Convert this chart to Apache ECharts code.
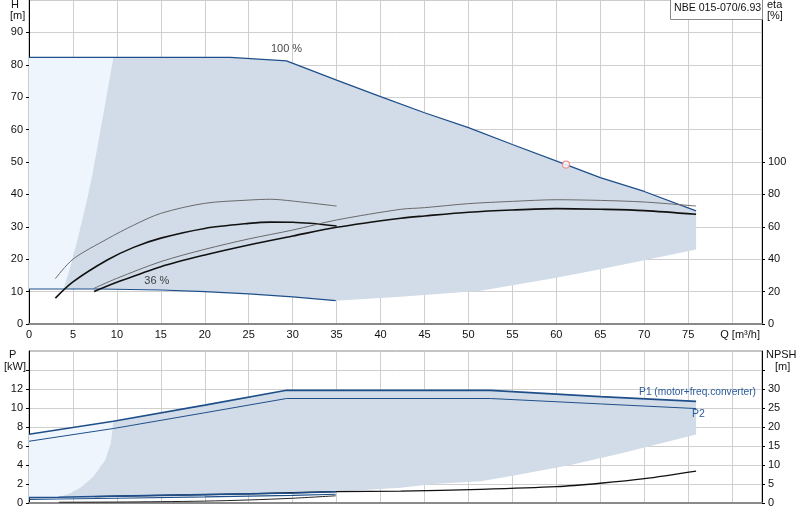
<!DOCTYPE html>
<html><head><meta charset="utf-8">
<script src="https://cdn.jsdelivr.net/npm/echarts@6/dist/echarts.min.js"></script>
<style>html,body{margin:0;padding:0;background:#fff}#c{width:800px;height:520px}</style>
</head><body><div id="c"></div>
<script>
// ---------- data ----------
const qLabelTicks = [0,5,10,15,20,25,30,35,40,45,50,55,60,65,70,75];
const hLabels = [0,10,20,30,40,50,60,70,80,90];
const etaLabels = [0,20,40,60,80,100];
const pLabels = [0,2,4,6,8,10,12];
const pTicks = [0,2,4,6,8,10,12,14];
const npshLabels = [0,5,10,15,20,25,30];
const npshTicks = [0,5,10,15,20,25,30,35];

// head curves
const h100Q = [0, 9.6, 22.9, 29.3, 35, 40, 45, 50, 55, 61.1, 65, 70, 75.9];
const h100H = [82.3, 82.3, 82.3, 81.2, 75.3, 70.2, 65.2, 60.6, 55.4, 49.2, 45.2, 40.9, 34.9];
const h36Q = [0, 3.9, 8, 15, 20, 25, 30, 34.9];
const h36H = [10.8, 10.8, 10.8, 10.5, 10.0, 9.3, 8.4, 7.2];
// operating range boundaries
const edgeQ = [3.9, 4.6, 5.6, 6.5, 7.2, 8.4, 9.6];
const edgeH = [10.8, 16.7, 26.9, 37.2, 46, 64, 82.3];
const lowQ = [34.9, 42.3, 51.4, 60, 65, 70, 75.9];
const lowH = [7.2, 8.4, 10.3, 14.3, 16.9, 19.7, 23.0];
// efficiency curves [%]
const etaQ36 = [3, 5, 8.9, 11.9, 15, 20, 25, 27.5, 30, 35];
const eta36a = [28, 40, 52.5, 61, 68.3, 74.5, 76.5, 77, 75.9, 72.8];
const eta36b = [16, 26, 39.5, 47.3, 53, 59, 62.1, 62.9, 62.8, 60.5];
const etaQ100 = [7.4, 10, 15, 20, 25, 30, 35, 42.3, 45, 50, 55, 60, 65, 70, 75.9];
const eta100a = [22, 28.2, 38.5, 46.1, 52.5, 58.0, 64.2, 70.8, 71.8, 74.3, 75.7, 76.7, 76.3, 75.3, 72.8];
const eta100b = [20, 25.7, 35.4, 42.6, 48.8, 54.3, 59.7, 65.3, 66.7, 69, 70.4, 71.2, 70.8, 70, 67.7];
const dutyQ = [61.1];
const dutyH = [49.2];

// power curves [kW]
const pQ = [0, 9.6, 20, 29.3, 52.5, 65, 75.9];
const p1 = [7.24, 8.6, 10.3, 11.86, 11.86, 11.2, 10.7];
const p2 = [6.5, 7.84, 9.5, 11.0, 11.0, 10.43, 9.94];
const pEdgeQ = [3.34, 4.67, 6.0, 7.3, 8.66, 9.3, 9.6];
const pEdgeP = [0.6, 1.02, 1.71, 2.76, 4.5, 6.27, 8.6];
const pLowQ = [34.9, 42.3, 46, 51.4, 55.2, 61.6, 67.3, 73.3, 75.9];
const pLowP = [1.19, 1.6, 2.0, 2.3, 2.9, 4.0, 5.2, 6.6, 7.2];
const p36Q = [0, 3.34, 10, 20, 30, 34.9];
const p1_36 = [0.58, 0.6, 0.72, 0.88, 1.05, 1.19];
const p2_36 = [0.38, 0.42, 0.5, 0.64, 0.8, 0.92];
// NPSH [m]
const npsh36Q = [3.4, 10, 15, 20, 25, 30, 34.9];
const npsh36 = [0.2, 0.25, 0.35, 0.5, 0.8, 1.25, 1.9];
const npsh100Q = [7.5, 15, 25, 34.9, 42.3, 51.4, 60, 65, 70, 75.9];
const npsh100 = [1.7, 2.0, 2.4, 2.97, 3.15, 3.6, 4.3, 5.2, 6.4, 8.4];

// ---------- helpers ----------
const zip = (a, b) => a.map((v, i) => [v, b[i]]);
const FONT = 'Liberation Sans, Arial, sans-serif';
const BLUE = '#1f4f8a';
const DARK = '#d1dce8';
const LIGHT = '#eef5fd';
const TXT = '#111';

const H100 = zip(h100Q, h100H), H36 = zip(h36Q, h36H);
const EDGE = zip(edgeQ, edgeH), LOW = zip(lowQ, lowH);
const topDark = [].concat(EDGE, H100.filter(p => p[0] > edgeQ[edgeQ.length-1]),
  LOW.slice().reverse(), H36.filter(p => p[0] >= edgeQ[0] && p[0] < lowQ[0]).reverse());
const topLight = [].concat([H36[0], H100[0]], H100.filter(p => p[0] > 0 && p[0] <= edgeQ[edgeQ.length-1]),
  EDGE.slice().reverse());

const P1 = zip(pQ, p1), P2 = zip(pQ, p2);
const PE = zip(pEdgeQ, pEdgeP), PL = zip(pLowQ, pLowP), P136 = zip(p36Q, p1_36);
const botDark = [].concat(PE, P1.filter(p => p[0] > pEdgeQ[pEdgeQ.length-1]),
  PL.slice().reverse(), P136.filter(p => p[0] >= pEdgeQ[0] && p[0] < pLowQ[0]).reverse());
const botLight = [].concat([P136[0]], P1.filter(p => p[0] <= pEdgeQ[pEdgeQ.length-1]), PE.slice().reverse());

function poly(pts, color, xi, yi, z) {
  return { type: 'custom', xAxisIndex: xi, yAxisIndex: yi, z: z, silent: true, data: [[0, 0]],
    renderItem: function (params, api) {
      return { type: 'polygon', shape: { points: pts.map(p => api.coord(p)) }, style: { fill: color } };
    } };
}
function line(data, xi, yi, color, width, smooth, z, extra) {
  return Object.assign({ type: 'line', xAxisIndex: xi, yAxisIndex: yi, data: data, symbol: 'none',
    showSymbol: false, smooth: smooth, lineStyle: { color: color, width: width }, z: z, silent: true }, extra || {});
}
const lbl = { color: TXT, fontSize: 11, fontFamily: FONT };

function xAxis(gi, showLabels) {
  return { type: 'value', gridIndex: gi, min: 0, max: 83.4, interval: 5,
    axisLine: { show: true, onZero: false, lineStyle: { color: '#8a8a8a', width: 2 } },
    axisTick: { show: false },
    splitLine: { show: true, lineStyle: { color: '#cfcfcf', width: 1 } },
    axisLabel: showLabels ? Object.assign({ margin: 5, customValues: qLabelTicks.concat([80]),
      formatter: v => v === 80 ? '{q|Q [m³/h]}' : String(v),
      rich: { q: { fontSize: 11, fontFamily: FONT, color: TXT, padding: [0, 0, 0, 16] } } }, lbl) : { show: false } };
}
function yAxis(gi, pos, max, interval, labels, ticks, split) {
  return { type: 'value', gridIndex: gi, position: pos, min: 0, max: max, interval: interval,
    axisLine: { show: true, onZero: false, lineStyle: { color: '#000', width: 1 } },
    axisTick: { show: true, length: 3, customValues: ticks, lineStyle: { color: '#000' } },
    splitLine: { show: split, lineStyle: { color: '#cfcfcf', width: 1 } },
    axisLabel: Object.assign({ margin: 6, customValues: labels }, lbl) };
}

const option = {
  animation: false,
  backgroundColor: '#fff',
  grid: [
    { left: 29, right: 38, top: 0, height: 324, show: true, borderColor: '#9a9a9a', borderWidth: 1, backgroundColor: 'transparent' },
    { left: 29, right: 38, top: 351, height: 152, show: true, borderColor: '#8a8a8a', borderWidth: 1, backgroundColor: 'transparent' }
  ],
  xAxis: [xAxis(0, true), xAxis(1, false)],
  yAxis: [
    yAxis(0, 'left', 100, 10, hLabels, hLabels, true),
    yAxis(0, 'right', 200, 20, etaLabels, etaLabels, false),
    yAxis(1, 'left', 16, 2, pLabels, pTicks, true),
    yAxis(1, 'right', 40, 5, npshLabels, npshTicks, false)
  ],
  series: [
    poly(topLight, LIGHT, 0, 0, 1),
    poly(topDark, DARK, 0, 0, 1),
    poly(botLight, LIGHT, 1, 2, 1),
    poly(botDark, DARK, 1, 2, 1),
    // head
    line(H100, 0, 0, BLUE, 1.3, false, 5),
    line(H36, 0, 0, BLUE, 1.2, false, 5),
    // efficiency
    line(zip(etaQ36, eta36a), 0, 1, '#6a6a6a', 1, 0.3, 6),
    line(zip(etaQ36, eta36b), 0, 1, '#111', 1.6, 0.3, 6),
    line(zip(etaQ100, eta100a), 0, 1, '#6a6a6a', 1, 0.3, 6),
    line(zip(etaQ100, eta100b), 0, 1, '#111', 1.6, 0.3, 6),
    // labels
    { type: 'scatter', xAxisIndex: 0, yAxisIndex: 0, silent: true, z: 8, symbol: 'circle', symbolSize: 1,
      itemStyle: { color: 'transparent' }, data: [[h100Q[3], h100H[3]]],
      label: { show: true, position: 'top', distance: 6, formatter: '100 %', color: TXT, fontSize: 11, fontFamily: FONT } },
    { type: 'scatter', xAxisIndex: 0, yAxisIndex: 0, silent: true, z: 8, symbol: 'circle', symbolSize: 1,
      itemStyle: { color: 'transparent' }, data: [[h36Q[3], h36H[3]]],
      label: { show: true, position: 'top', distance: 3, offset: [-4, 0], formatter: '36 %', color: TXT, fontSize: 11, fontFamily: FONT } },
    // duty point
    { type: 'scatter', xAxisIndex: 0, yAxisIndex: 0, silent: true, z: 9, symbol: 'circle', symbolSize: 7,
      itemStyle: { color: '#fff', borderColor: '#f07878', borderWidth: 1.2 }, data: zip(dutyQ, dutyH) },
    // NPSH
    line(zip(npsh100Q, npsh100), 1, 3, '#111', 1.3, 0.3, 4),
    line(zip(npsh36Q, npsh36), 1, 3, '#222', 1, 0.3, 4),
    // power
    line(P1, 1, 2, BLUE, 1.6, false, 5, { endLabel: { show: true, formatter: 'P1 (motor+freq.converter)', offset: [-65, -9], color: '#2a5b9c', fontSize: 10.2, fontFamily: FONT } }),
    line(P2, 1, 2, BLUE, 1, false, 5, { endLabel: { show: true, formatter: 'P2', offset: [-12, 6], color: '#2a5b9c', fontSize: 10.5, fontFamily: FONT } }),
    line(P136, 1, 2, BLUE, 1.6, false, 5),
    line(zip(p36Q, p2_36), 1, 2, BLUE, 1.2, false, 5)
  ],
  graphic: [
    { type: 'text', left: 11, top: -1, z: 100, style: { text: 'H', font: '11px ' + FONT, fill: TXT } },
    { type: 'text', left: 10, top: 10, z: 100, style: { text: '[m]', font: '11px ' + FONT, fill: TXT } },
    { type: 'text', left: 767, top: -1, z: 100, style: { text: 'eta', font: '11px ' + FONT, fill: TXT } },
    { type: 'text', left: 767, top: 10, z: 100, style: { text: '[%]', font: '11px ' + FONT, fill: TXT } },
    { type: 'text', left: 9, top: 349, z: 100, style: { text: 'P', font: '11px ' + FONT, fill: TXT } },
    { type: 'text', left: 4, top: 361, z: 100, style: { text: '[kW]', font: '11px ' + FONT, fill: TXT } },
    { type: 'text', left: 766, top: 349, z: 100, style: { text: 'NPSH', font: '11px ' + FONT, fill: TXT } },
    { type: 'text', left: 775, top: 361, z: 100, style: { text: '[m]', font: '11px ' + FONT, fill: TXT } },
    { type: 'rect', left: 670, top: -1, z: 100, shape: { width: 92, height: 20 }, style: { fill: '#fff', stroke: '#8a8a8a', lineWidth: 1 } },
    { type: 'text', left: 674, top: 3, z: 101, style: { text: 'NBE 015-070/6.93', font: '10.6px ' + FONT, fill: TXT } }
  ]
};
const chart = echarts.init(document.getElementById('c'));
chart.setOption(option);
</script>
</body></html>
